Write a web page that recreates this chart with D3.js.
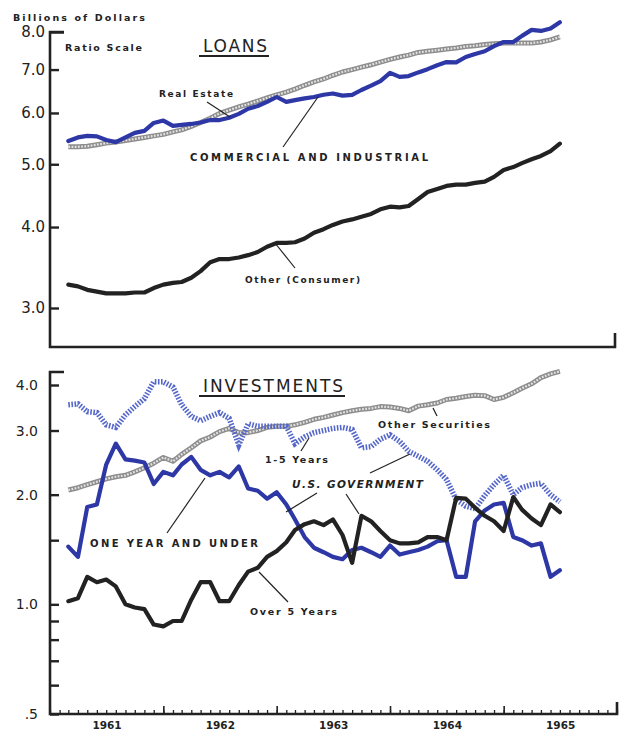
<!DOCTYPE html>
<html>
<head>
<meta charset="utf-8">
<script src="https://cdn.jsdelivr.net/npm/d3@7"></script>
<style>
body { margin: 0; background: #fff; }
.lbl { font-family: "DejaVu Sans", sans-serif; font-weight: bold; fill: #222; }
.tick text { font-family: "DejaVu Sans", sans-serif; fill: #222; }
</style>
</head>
<body>
<svg class="chart"></svg>
<script>
var width = 621;
var height = 732;

// monthly points, end of month, Feb 1961 - Jun 1965
var months = d3.timeMonth.range(new Date(1961, 2, 1), new Date(1965, 7, 1));

// Loans, billions of dollars
var loanCommercial = [5.43, 5.50, 5.53, 5.52, 5.45, 5.41, 5.50, 5.59, 5.63, 5.79, 5.84, 5.73, 5.75, 5.77, 5.80, 5.85, 5.85, 5.90,
    5.98, 6.09, 6.15, 6.24, 6.35, 6.24, 6.28, 6.32, 6.35, 6.40, 6.43, 6.38, 6.40, 6.51, 6.61, 6.72, 6.92, 6.82, 6.84, 6.93,
    7.01, 7.11, 7.19, 7.18, 7.32, 7.40, 7.47, 7.61, 7.72, 7.72, 7.89, 8.06, 8.03, 8.10, 8.28];
var loanRealEstate = [5.32, 5.32, 5.33, 5.36, 5.39, 5.41, 5.44, 5.47, 5.50, 5.53, 5.56, 5.61, 5.65, 5.72, 5.80, 5.89, 5.99, 6.06,
    6.13, 6.19, 6.26, 6.33, 6.40, 6.46, 6.53, 6.62, 6.70, 6.77, 6.86, 6.94, 7.00, 7.06, 7.12, 7.19, 7.26, 7.32, 7.37, 7.44,
    7.47, 7.50, 7.53, 7.56, 7.60, 7.62, 7.65, 7.67, 7.69, 7.69, 7.69, 7.69, 7.72, 7.78, 7.86];
var loanConsumer = [3.26, 3.24, 3.20, 3.18, 3.16, 3.16, 3.16, 3.17, 3.17, 3.22, 3.26, 3.28, 3.29, 3.34, 3.42, 3.53, 3.57, 3.57,
    3.59, 3.62, 3.66, 3.73, 3.78, 3.78, 3.79, 3.84, 3.92, 3.97, 4.03, 4.08, 4.11, 4.15, 4.19, 4.26, 4.30, 4.29, 4.31, 4.42,
    4.53, 4.58, 4.63, 4.65, 4.65, 4.68, 4.70, 4.78, 4.90, 4.95, 5.02, 5.09, 5.15, 5.24, 5.38];

// Investments, billions of dollars
var invOther = [2.06, 2.09, 2.13, 2.17, 2.21, 2.24, 2.26, 2.31, 2.37, 2.44, 2.53, 2.47, 2.58, 2.69, 2.81, 2.88, 2.98, 3.04,
    2.96, 2.96, 3.00, 3.06, 3.08, 3.08, 3.11, 3.16, 3.22, 3.26, 3.31, 3.36, 3.40, 3.43, 3.45, 3.49, 3.48, 3.45, 3.40, 3.50,
    3.53, 3.57, 3.65, 3.68, 3.72, 3.75, 3.74, 3.65, 3.70, 3.81, 3.92, 4.03, 4.19, 4.29, 4.36];
var inv1to5 = [3.53, 3.55, 3.38, 3.36, 3.11, 3.06, 3.31, 3.49, 3.67, 4.08, 4.08, 3.95, 3.53, 3.28, 3.19, 3.28, 3.36, 3.24,
    2.74, 3.13, 3.08, 3.08, 3.08, 3.08, 2.76, 2.88, 2.96, 3.00, 3.04, 3.06, 3.02, 2.69, 2.71, 2.84, 2.92, 2.80, 2.63, 2.55,
    2.47, 2.34, 2.20, 1.94, 1.86, 1.83, 1.99, 2.13, 2.26, 2.00, 2.09, 2.13, 2.15, 2.00, 1.91];
var invOneYear = [1.44, 1.35, 1.85, 1.88, 2.42, 2.76, 2.50, 2.48, 2.45, 2.14, 2.31, 2.26, 2.42, 2.54, 2.34, 2.26, 2.31, 2.23,
    2.39, 2.08, 2.05, 1.95, 2.03, 1.88, 1.71, 1.53, 1.43, 1.39, 1.35, 1.33, 1.41, 1.43, 1.39, 1.35, 1.45, 1.37, 1.39, 1.41,
    1.44, 1.49, 1.50, 1.19, 1.19, 1.69, 1.81, 1.88, 1.90, 1.53, 1.50, 1.45, 1.47, 1.19, 1.24];
var invOver5 = [1.02, 1.04, 1.19, 1.15, 1.17, 1.12, 1.00, 0.98, 0.97, 0.88, 0.87, 0.90, 0.90, 1.03, 1.15, 1.15, 1.02, 1.02,
    1.13, 1.23, 1.26, 1.35, 1.40, 1.48, 1.60, 1.66, 1.69, 1.65, 1.71, 1.55, 1.30, 1.75, 1.69, 1.59, 1.50, 1.47, 1.47, 1.48,
    1.53, 1.53, 1.50, 1.96, 1.95, 1.84, 1.75, 1.69, 1.59, 1.97, 1.82, 1.72, 1.65, 1.88, 1.79];

var topTicks = [3, 4, 5, 6, 7, 8];
var topTickLabels = ["3.0", "4.0", "5.0", "6.0", "7.0", "8.0"];
var botTicks = [0.5, 1, 2, 3, 4];
var botTickLabels = [".5", "1.0", "2.0", "3.0", "4.0"];
var botMinorTicks = [0.6, 0.7, 0.8, 0.9, 1.5];
var years = [1961, 1962, 1963, 1964, 1965];

var ink = "#222";
var blue = "#2d37a6";

var x = d3.scaleTime()
    .domain([new Date(1961, 0, 1), new Date(1966, 0, 1)])
    .range([50, 617]);
var yTop = d3.scaleLog().domain([3, 8]).range([308, 32]);
var yBot = d3.scaleLog().domain([0.5, 4]).range([714, 385]);

var topBase = 347; // bottom line of loans panel
var botTopEdge = 372; // top of investments axis

var chart = d3.select(".chart")
    .attr("width", width)
    .attr("height", height);

// ---------- axes ----------
function styleAxis(g, size) {
    g.select(".domain").remove();
    g.selectAll("line").attr("stroke", ink).attr("stroke-width", 2.4);
    g.selectAll("text").style("font-size", size + "px");
}

var axTop = chart.append("g")
    .attr("transform", "translate(50,0)")
    .call(d3.axisLeft(yTop).tickValues(topTicks)
        .tickFormat(function(d, i) { return topTickLabels[i]; })
        .tickSize(-9).tickPadding(5));
styleAxis(axTop, 15);
axTop.selectAll(".tick").filter(function(d) { return d === 8; }).select("line").attr("x2", 14);

var axBot = chart.append("g")
    .attr("transform", "translate(50,0)")
    .call(d3.axisLeft(yBot).tickValues(botTicks)
        .tickFormat(function(d, i) { return botTickLabels[i]; })
        .tickSize(-9).tickPadding(12));
styleAxis(axBot, 14);

var axBotMinor = chart.append("g")
    .attr("transform", "translate(50,0)")
    .call(d3.axisLeft(yBot).tickValues(botMinorTicks).tickFormat("").tickSize(-9));
styleAxis(axBotMinor, 10);

// frame lines
var x0 = x.range()[0], x1 = x.range()[1];
chart.append("path")
    .attr("d", "M" + (x0 + 14) + "," + yTop(8) + "H" + x0 + "V" + topBase + "H" + (x1 - 2) + "V" + (topBase - 14))
    .attr("fill", "none").attr("stroke", ink).attr("stroke-width", 2.6);
chart.append("path")
    .attr("d", "M" + (x0 + 14) + "," + botTopEdge + "H" + x0 + "V" + yBot(0.5) + "H" + x1 + "V" + (yBot(0.5) - 12))
    .attr("fill", "none").attr("stroke", ink).attr("stroke-width", 2.6);

// month ticks, year ticks, year labels
var axMonths = chart.append("g")
    .attr("transform", "translate(0," + yBot(0.5) + ")")
    .call(d3.axisBottom(x).ticks(d3.timeMonth.every(1)).tickFormat("").tickSize(-4));
styleAxis(axMonths, 10);
axMonths.selectAll("line").attr("stroke-width", 1.3);

var axYears = chart.append("g")
    .attr("transform", "translate(0," + yBot(0.5) + ")")
    .call(d3.axisBottom(x).tickValues(years.slice(1).map(function(y) { return new Date(y, 0, 1); }))
        .tickFormat("").tickSize(-8));
styleAxis(axYears, 10);
axYears.selectAll("line").attr("stroke-width", 1.6);

var axLabels = chart.append("g")
    .attr("transform", "translate(0," + yBot(0.5) + ")")
    .call(d3.axisBottom(x).tickValues(years.map(function(y) { return new Date(y, 6, 2); }))
        .tickFormat(function(d) { return d.getFullYear(); }).tickSize(0));
styleAxis(axLabels, 10.5);
axLabels.selectAll("text").attr("dy", null).attr("y", 15).style("font-weight", "bold");

// ---------- series ----------
function lineFor(y) {
    return d3.line()
        .x(function(d, i) { return x(months[i]); })
        .y(function(d) { return y(d); });
}

function rope(values, y) {
    chart.append("path").datum(values)
        .attr("d", lineFor(y)).attr("fill", "none")
        .attr("stroke", "#8d8d8d").attr("stroke-width", 5).attr("stroke-linejoin", "round");
    chart.append("path").datum(values)
        .attr("d", lineFor(y)).attr("fill", "none")
        .attr("stroke", "#e4e4e4").attr("stroke-width", 2.2).attr("stroke-dasharray", "1.8 1.4");
}

function solid(values, y, color) {
    chart.append("path").datum(values)
        .attr("d", lineFor(y)).attr("fill", "none")
        .attr("stroke", color).attr("stroke-width", 4.2)
        .attr("stroke-linejoin", "round").attr("stroke-linecap", "round");
}

function hatched(values, y) {
    chart.append("path").datum(values)
        .attr("d", lineFor(y)).attr("fill", "none")
        .attr("stroke", "#5567c9").attr("stroke-width", 5.5)
        .attr("stroke-dasharray", "1.6 1.5");
}

rope(loanRealEstate, yTop);
solid(loanCommercial, yTop, blue);
solid(loanConsumer, yTop, ink);

rope(invOther, yBot);
hatched(inv1to5, yBot);
solid(invOneYear, yBot, blue);
solid(invOver5, yBot, ink);

// ---------- labels ----------
var labels = [
    {t: "Billions of Dollars", x: 13, y: 21, s: 9.5, w: 132},
    {t: "Ratio Scale", x: 65, y: 51, s: 9.5, w: 77},
    {t: "Real Estate", x: 159, y: 97, s: 9, w: 74},
    {t: "COMMERCIAL AND INDUSTRIAL", x: 190, y: 161, s: 10, w: 238},
    {t: "Other (Consumer)", x: 245, y: 283, s: 9, w: 115},
    {t: "Other Securities", x: 378, y: 428, s: 9.5, w: 112},
    {t: "1-5 Years", x: 265, y: 463, s: 9.5, w: 63},
    {t: "U.S. GOVERNMENT", x: 292, y: 488, s: 10.5, w: 131, it: true},
    {t: "ONE YEAR AND UNDER", x: 90, y: 547, s: 10, w: 168},
    {t: "Over 5 Years", x: 250, y: 615, s: 9.5, w: 87}
];

chart.selectAll("text.lbl")
    .data(labels)
    .enter()
    .append("text")
    .attr("class", "lbl")
    .attr("x", function(d) { return d.x; })
    .attr("y", function(d) { return d.y; })
    .attr("textLength", function(d) { return d.w; })
    .attr("lengthAdjust", "spacing")
    .style("font-size", function(d) { return d.s + "px"; })
    .style("font-style", function(d) { return d.it ? "italic" : "normal"; })
    .text(function(d) { return d.t; });

var titles = [
    {t: "LOANS", x: 203, y: 52, w: 64},
    {t: "INVESTMENTS", x: 203, y: 392, w: 140}
];
titles.forEach(function(d) {
    chart.append("text")
        .attr("x", d.x).attr("y", d.y)
        .attr("textLength", d.w).attr("lengthAdjust", "spacing")
        .style("font-family", "DejaVu Sans, sans-serif")
        .style("font-size", "17px")
        .style("fill", ink)
        .text(d.t);
    chart.append("line")
        .attr("x1", d.x - 4).attr("x2", d.x + d.w + 2)
        .attr("y1", d.y + 4).attr("y2", d.y + 4)
        .attr("stroke", ink).attr("stroke-width", 1.8);
});

// leader lines
var leaders = [
    [207, 102, 230, 117],
    [283, 147, 318, 97],
    [275, 243, 295, 268],
    [433, 408, 437, 416],
    [301, 451, 309, 438],
    [317, 493, 286, 512],
    [346, 494, 359, 514],
    [370, 473, 410, 454],
    [167, 533, 205, 478],
    [259, 572, 288, 602]
];
chart.selectAll("line.leader")
    .data(leaders)
    .enter()
    .append("line")
    .attr("class", "leader")
    .attr("x1", function(d) { return d[0]; })
    .attr("y1", function(d) { return d[1]; })
    .attr("x2", function(d) { return d[2]; })
    .attr("y2", function(d) { return d[3]; })
    .attr("stroke", ink)
    .attr("stroke-width", 1.2);
</script>
</body>
</html>
